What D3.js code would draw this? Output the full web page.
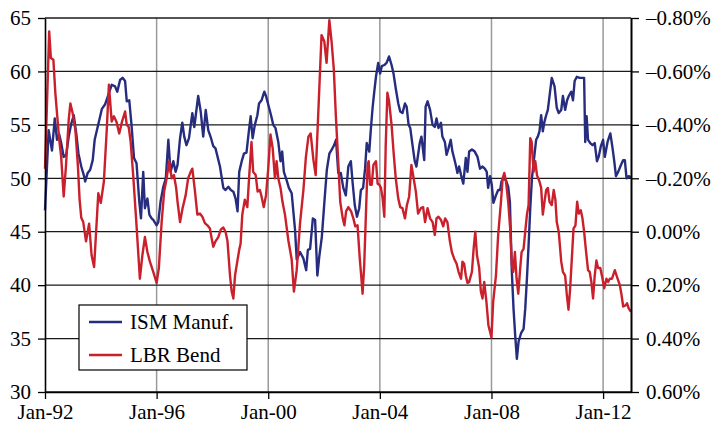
<!DOCTYPE html>
<html><head><meta charset="utf-8">
<script src="https://cdn.jsdelivr.net/npm/d3@7"></script>
<style>
html,body{margin:0;padding:0;background:#fff;}
svg{display:block;}
text{font-family:"Liberation Serif","Times New Roman",serif;font-size:21px;fill:#000;}
</style></head><body>
<svg id="chart" width="713" height="424"></svg>
<script>
// ---- data ----
const ismYears = [
1992.00,1992.13,1992.25,1992.35,1992.43,1992.51,1992.58,1992.67,1992.76,1992.85,1992.94,
1993.03,1993.12,1993.20,1993.30,1993.39,1993.44,1993.53,1993.62,1993.71,1993.78,1993.86,1993.95,
1994.04,1994.15,1994.27,1994.39,1994.51,1994.59,1994.69,1994.78,1994.87,1994.93,
1995.02,1995.10,1995.19,1995.28,1995.38,1995.44,1995.52,1995.58,1995.67,1995.74,1995.82,1995.88,
1996.00,1996.06,1996.14,1996.24,1996.33,1996.42,1996.50,1996.60,1996.68,1996.75,1996.84,1996.92,1996.99,
1997.07,1997.16,1997.28,1997.35,1997.49,1997.58,1997.67,1997.76,1997.85,1997.95,
1998.03,1998.11,1998.27,1998.39,1998.47,1998.57,1998.66,1998.75,1998.83,1998.90,1998.96,
1999.05,1999.13,1999.22,1999.31,1999.37,1999.44,1999.52,1999.61,1999.67,1999.76,1999.86,1999.92,
2000.00,2000.10,2000.18,2000.26,2000.36,2000.44,2000.50,2000.56,2000.66,2000.74,2000.84,2000.96,
2001.02,2001.14,2001.26,2001.36,2001.42,2001.50,2001.60,2001.68,2001.76,2001.83,2001.92,
2002.01,2002.10,2002.19,2002.28,2002.36,2002.43,2002.51,2002.60,2002.69,2002.78,2002.87,2002.96,
2003.02,2003.10,2003.18,2003.26,2003.32,2003.40,2003.47,2003.53,2003.62,2003.68,2003.74,2003.80,2003.86,2003.94,
2004.01,2004.07,2004.16,2004.24,2004.33,2004.42,2004.49,2004.57,2004.66,2004.73,2004.81,2004.90,2004.96,
2005.03,2005.09,2005.17,2005.25,2005.31,2005.37,2005.43,2005.49,2005.59,2005.64,2005.71,2005.80,2005.89,2005.97,
2006.03,2006.10,2006.19,2006.24,2006.33,2006.39,2006.46,2006.54,2006.60,2006.66,2006.72,2006.78,2006.84,2006.91,2006.99,
2007.08,2007.14,2007.20,2007.30,2007.40,2007.50,2007.59,2007.68,2007.76,2007.83,2007.88,2007.95,
2008.01,2008.07,2008.16,2008.24,2008.31,2008.36,2008.43,2008.52,2008.60,2008.66,2008.73,2008.79,2008.85,2008.91,2008.97,
2009.06,2009.15,2009.21,2009.27,2009.33,2009.39,2009.45,2009.54,2009.60,2009.66,2009.72,2009.78,2009.84,2009.90,2009.96,
2010.02,2010.16,2010.26,2010.34,2010.41,2010.50,2010.56,2010.64,2010.71,2010.77,2010.86,2010.92,2010.98,
2011.06,2011.16,2011.32,2011.36,2011.41,2011.46,2011.54,2011.62,2011.70,2011.78,2011.84,2011.92,
2012.00,2012.06,2012.16,2012.26,2012.34,2012.40,2012.46,2012.54,2012.64,2012.72,2012.78,2012.84,2012.92,2013.00
];
const ismValues = [
47.0,54.5,52.6,55.6,53.6,54.1,53.3,52.0,52.2,53.9,55.1,
55.9,54.2,52.3,51.1,50.3,49.7,50.5,50.8,51.7,53.6,54.5,55.5,
56.5,56.9,57.8,58.75,58.6,58.1,59.2,59.4,59.1,57.2,
57.3,55.0,51.9,51.4,47.8,46.25,50.6,47.2,48.1,46.6,46.25,46.1,
45.6,45.9,47.8,49.2,50.0,53.6,50.6,51.6,50.6,51.25,53.75,55.2,53.9,
53.1,53.75,56.1,54.8,57.7,56.25,53.9,56.4,54.5,53.75,
53.0,52.8,51.1,49.1,48.9,49.2,48.9,48.75,48.1,46.9,50.6,
51.6,52.3,52.4,54.5,55.8,53.75,55.0,55.9,57.0,57.3,58.1,57.7,
56.9,55.9,55.0,54.7,53.4,51.6,52.5,50.6,49.8,49.1,48.6,45.2,
42.4,43.1,42.5,41.4,43.3,43.4,46.25,46.1,40.9,42.7,44.5,
47.7,50.8,52.3,52.7,53.1,53.6,50.5,50.5,49.1,48.4,51.1,51.6,
49.7,47.5,46.4,47.2,48.9,49.1,50.9,53.3,52.5,54.7,56.6,58.1,59.5,60.8,
59.8,60.5,60.6,60.8,61.4,60.6,59.8,58.4,57.0,56.25,56.1,57.0,56.7,
55.0,54.7,53.1,51.6,51.1,52.2,53.3,53.9,51.7,56.7,57.2,56.4,55.0,54.8,
55.6,54.7,55.2,53.9,53.4,52.2,52.8,53.6,52.5,51.9,51.25,50.5,51.1,50.3,49.5,
51.9,50.6,52.5,52.7,52.5,52.0,50.9,51.1,50.9,50.6,49.1,50.2,
49.4,47.7,48.4,48.9,48.9,49.7,50.0,49.8,49.2,47.8,41.25,37.8,35.3,33.1,34.7,
35.5,35.9,37.8,40.6,43.75,47.2,50.0,52.2,53.6,53.9,54.4,55.9,54.4,55.3,55.9,
56.4,59.4,58.6,56.6,56.1,56.4,57.7,56.4,57.3,57.7,58.1,57.3,59.1,
59.5,59.4,59.4,53.4,55.8,53.6,53.3,53.1,53.3,51.6,52.0,53.0,
53.6,52.0,53.4,54.2,52.8,51.6,50.2,50.6,51.25,51.7,51.7,50.0,50.2,50.1
];
const lbrYears = [
1992.00,1992.15,1992.21,1992.30,1992.37,1992.43,1992.51,1992.58,1992.67,1992.75,1992.85,1992.91,1992.99,
1993.09,1993.18,1993.24,1993.30,1993.37,1993.47,1993.58,1993.67,1993.76,1993.91,
1994.00,1994.11,1994.21,1994.29,1994.39,1994.47,1994.56,1994.66,1994.76,1994.87,1994.93,
1995.00,1995.07,1995.16,1995.28,1995.40,1995.49,1995.58,1995.67,1995.76,1995.88,
1996.00,1996.08,1996.18,1996.27,1996.36,1996.45,1996.54,1996.62,1996.70,1996.75,1996.84,1996.93,
1997.04,1997.13,1997.22,1997.28,1997.37,1997.46,1997.55,1997.64,1997.73,1997.82,1997.91,1997.97,
1998.03,1998.11,1998.21,1998.30,1998.39,1998.47,1998.54,1998.63,1998.69,1998.75,1998.81,1998.89,1998.96,
1999.01,1999.07,1999.16,1999.25,1999.32,1999.40,1999.46,1999.55,1999.62,1999.70,1999.76,1999.84,1999.92,
2000.00,2000.08,2000.16,2000.24,2000.30,2000.36,2000.44,2000.51,2000.60,2000.72,2000.84,2000.92,
2001.02,2001.14,2001.26,2001.35,2001.44,2001.52,2001.62,2001.70,2001.91,
2002.01,2002.09,2002.19,2002.27,2002.35,2002.42,2002.50,2002.58,2002.67,2002.73,2002.79,2002.87,2002.97,
2003.05,2003.12,2003.20,2003.28,2003.34,2003.38,2003.44,2003.50,2003.56,2003.60,2003.65,2003.71,2003.77,2003.86,2003.92,2003.98,
2004.04,2004.10,2004.16,2004.21,2004.27,2004.33,2004.42,2004.49,2004.57,2004.66,2004.73,2004.81,2004.90,2004.97,
2005.05,2005.13,2005.21,2005.29,2005.37,2005.47,2005.55,2005.62,2005.71,2005.80,2005.89,2005.97,
2006.03,2006.10,2006.19,2006.27,2006.34,2006.42,2006.51,2006.58,2006.66,2006.75,2006.82,2006.91,2006.96,
2007.02,2007.08,2007.14,2007.20,2007.30,2007.36,2007.42,2007.48,2007.56,2007.62,2007.68,2007.74,2007.82,2007.89,
2008.00,2008.06,2008.16,2008.24,2008.34,2008.40,2008.46,2008.52,2008.60,2008.67,2008.73,2008.78,2008.84,2008.90,2008.96,
2009.03,2009.08,2009.15,2009.21,2009.27,2009.33,2009.39,2009.44,2009.51,2009.57,2009.63,2009.72,2009.78,2009.84,2009.90,2009.96,
2010.02,2010.08,2010.16,2010.23,2010.29,2010.34,2010.41,2010.50,2010.56,2010.64,2010.70,2010.76,2010.82,2010.88,2010.94,
2011.01,2011.07,2011.13,2011.20,2011.26,2011.32,2011.38,2011.46,2011.52,2011.58,2011.64,2011.70,2011.76,2011.82,2011.90,2011.98,
2012.04,2012.12,2012.18,2012.24,2012.32,2012.42,2012.52,2012.60,2012.66,2012.72,2012.80,2012.86,2012.92,2013.00
];
const lbrValues = [
-0.236,-0.75,-0.65,-0.644,-0.52,-0.444,-0.344,-0.28,-0.132,-0.244,-0.42,-0.48,-0.444,
-0.38,-0.244,-0.12,-0.052,-0.036,0.036,-0.03,0.088,0.132,-0.144,
-0.108,-0.188,-0.376,-0.55,-0.412,-0.432,-0.412,-0.368,-0.412,-0.45,-0.4,
-0.392,-0.336,-0.212,-0.024,0.176,0.088,0.02,0.076,0.112,0.15,
0.192,0.136,-0.036,-0.15,-0.2,-0.264,-0.2,-0.212,-0.164,-0.112,-0.036,-0.088,
-0.136,-0.2,-0.224,-0.236,-0.156,-0.064,-0.068,-0.056,-0.032,-0.024,-0.012,0.024,
0.056,0.036,0.02,-0.008,-0.016,0.0,0.036,0.164,0.224,0.25,0.164,0.112,0.068,
0.044,-0.064,-0.12,-0.092,-0.212,-0.336,-0.224,-0.212,-0.15,-0.156,-0.132,-0.092,-0.136,
-0.236,-0.364,-0.312,-0.2,-0.264,-0.2,-0.164,-0.112,-0.064,0.032,0.104,0.224,
0.144,-0.032,-0.156,-0.28,-0.356,-0.368,-0.268,-0.212,-0.736,
-0.712,-0.632,-0.792,-0.712,-0.608,-0.44,-0.28,-0.112,-0.05,-0.024,-0.076,-0.092,-0.076,
-0.05,-0.02,-0.024,0.1,0.176,0.232,0.124,-0.064,-0.25,-0.264,-0.176,-0.176,-0.25,-0.264,-0.18,-0.176,
-0.164,-0.124,-0.056,-0.324,-0.52,-0.488,-0.4,-0.3,-0.2,-0.124,-0.092,-0.088,-0.05,-0.1,
-0.132,-0.25,-0.2,-0.15,-0.068,-0.088,-0.092,-0.036,-0.088,-0.05,-0.036,0.012,
-0.05,-0.056,-0.044,-0.02,-0.05,-0.036,0.036,0.076,0.1,0.12,0.15,0.176,0.112,
0.12,0.164,0.192,0.188,0.15,0.064,0.0,0.088,0.136,0.224,0.25,0.188,0.264,0.35,
0.396,0.264,0.164,0.012,-0.112,-0.2,-0.22,-0.188,-0.112,-0.012,0.124,0.15,0.076,0.176,0.232,
0.136,0.076,0.064,0.0,-0.064,-0.1,-0.35,-0.336,-0.224,-0.264,-0.212,-0.188,-0.164,-0.064,-0.112,-0.156,
-0.164,-0.112,-0.1,-0.156,-0.12,-0.036,0.0,0.112,0.15,0.164,0.236,0.292,0.212,0.1,-0.012,
-0.024,-0.112,-0.068,-0.08,-0.05,0.0,0.064,0.144,0.15,0.188,0.25,0.164,0.108,0.136,0.136,0.176,
0.212,0.176,0.188,0.176,0.176,0.144,0.176,0.2,0.236,0.28,0.276,0.268,0.288,0.3
];
const seriesNames = ["ISM Manuf.", "LBR Bend"];
const xTickYears = [1992, 1996, 2000, 2004, 2008, 2012];
const xTickLabels = ["Jan-92", "Jan-96", "Jan-00", "Jan-04", "Jan-08", "Jan-12"];
const leftTicks = [30, 35, 40, 45, 50, 55, 60, 65];
const rightTicks = [-0.8, -0.6, -0.4, -0.2, 0, 0.2, 0.4, 0.6];
const rightTickLabels = ["\u20130.80%", "\u20130.60%", "\u20130.40%", "\u20130.20%", "0.00%", "0.20%", "0.40%", "0.60%"];

// ---- layout ----
const FONT = "'Liberation Serif', 'Times New Roman', serif";
const P = {left: 45, right: 631, top: 18, bottom: 392};
const blue = "#262c7e", red = "#c9202c";

const svg = d3.select("#chart");
const x = d3.scaleLinear().domain([1992, 2013]).range([P.left, P.right]);
const yL = d3.scaleLinear().domain([30, 65]).range([P.bottom, P.top]);
const yR = d3.scaleLinear().domain([0.6, -0.8]).range([P.bottom, P.top]);

// vertical gridlines
svg.append("g").selectAll("line").data(xTickYears.filter(d => d > 1992)).join("line")
  .attr("x1", d => x(d)).attr("x2", d => x(d))
  .attr("y1", P.top).attr("y2", P.bottom)
  .attr("stroke", "#9a9a9a").attr("stroke-width", 1.5);

// horizontal gridlines
svg.append("g").selectAll("line").data(leftTicks).join("line")
  .attr("x1", P.left).attr("x2", P.right)
  .attr("y1", d => yL(d)).attr("y2", d => yL(d))
  .attr("stroke", "#1a1a1a").attr("stroke-width", 1.3);

// lines
const lineIsm = d3.line().x((d, i) => x(ismYears[i])).y(d => yL(d));
const lineLbr = d3.line().x((d, i) => x(lbrYears[i])).y(d => yR(d));

svg.append("path").datum(ismValues).attr("d", lineIsm)
  .attr("fill", "none").attr("stroke", blue).attr("stroke-width", 2.4)
  .attr("stroke-linejoin", "round");
svg.append("path").datum(lbrValues).attr("d", lineLbr)
  .attr("fill", "none").attr("stroke", red).attr("stroke-width", 2.4)
  .attr("stroke-linejoin", "round");

// axes
function styleAxis(g, w) {
  g.attr("font-family", FONT).attr("font-size", 21);
  g.select(".domain").attr("stroke", "#000").attr("stroke-width", w);
  g.selectAll(".tick line").attr("stroke", "#000").attr("stroke-width", 1.3);
  g.selectAll(".tick text").attr("font-family", FONT).attr("font-size", 21).attr("fill", "#000");
}
svg.append("g").attr("transform", `translate(${P.left},0)`)
  .call(d3.axisLeft(yL).tickValues(leftTicks).tickSize(7).tickSizeOuter(0).tickPadding(7))
  .call(g => styleAxis(g, 1.6));
svg.append("g").attr("transform", `translate(${P.right},0)`)
  .call(d3.axisRight(yR).tickValues(rightTicks).tickFormat((d, i) => rightTickLabels[i])
    .tickSize(8).tickSizeOuter(0).tickPadding(7))
  .call(g => styleAxis(g, 2));
svg.append("g").attr("transform", `translate(0,${P.bottom})`)
  .call(d3.axisBottom(x).tickValues(xTickYears).tickFormat((d, i) => xTickLabels[i])
    .tickSize(7).tickSizeOuter(0).tickPadding(5))
  .call(g => styleAxis(g, 1.6));

// legend
const lg = svg.append("g").attr("transform", "translate(79,305)");
lg.append("rect").attr("width", 168).attr("height", 65)
  .attr("fill", "#fff").attr("stroke", "#000").attr("stroke-width", 1.2);
const items = [{name: seriesNames[0], color: blue}, {name: seriesNames[1], color: red}];
const li = lg.selectAll("g.item").data(items).join("g")
  .attr("transform", (d, i) => `translate(0,${17 + i * 33})`);
li.append("line").attr("x1", 10).attr("x2", 43).attr("y1", 0).attr("y2", 0)
  .attr("stroke", d => d.color).attr("stroke-width", 2.4);
li.append("text").attr("x", 51).attr("y", 0).attr("dy", "0.35em")
  .attr("font-family", FONT).attr("font-size", 21).attr("fill", "#000")
  .text(d => d.name);
</script>
</body></html>
